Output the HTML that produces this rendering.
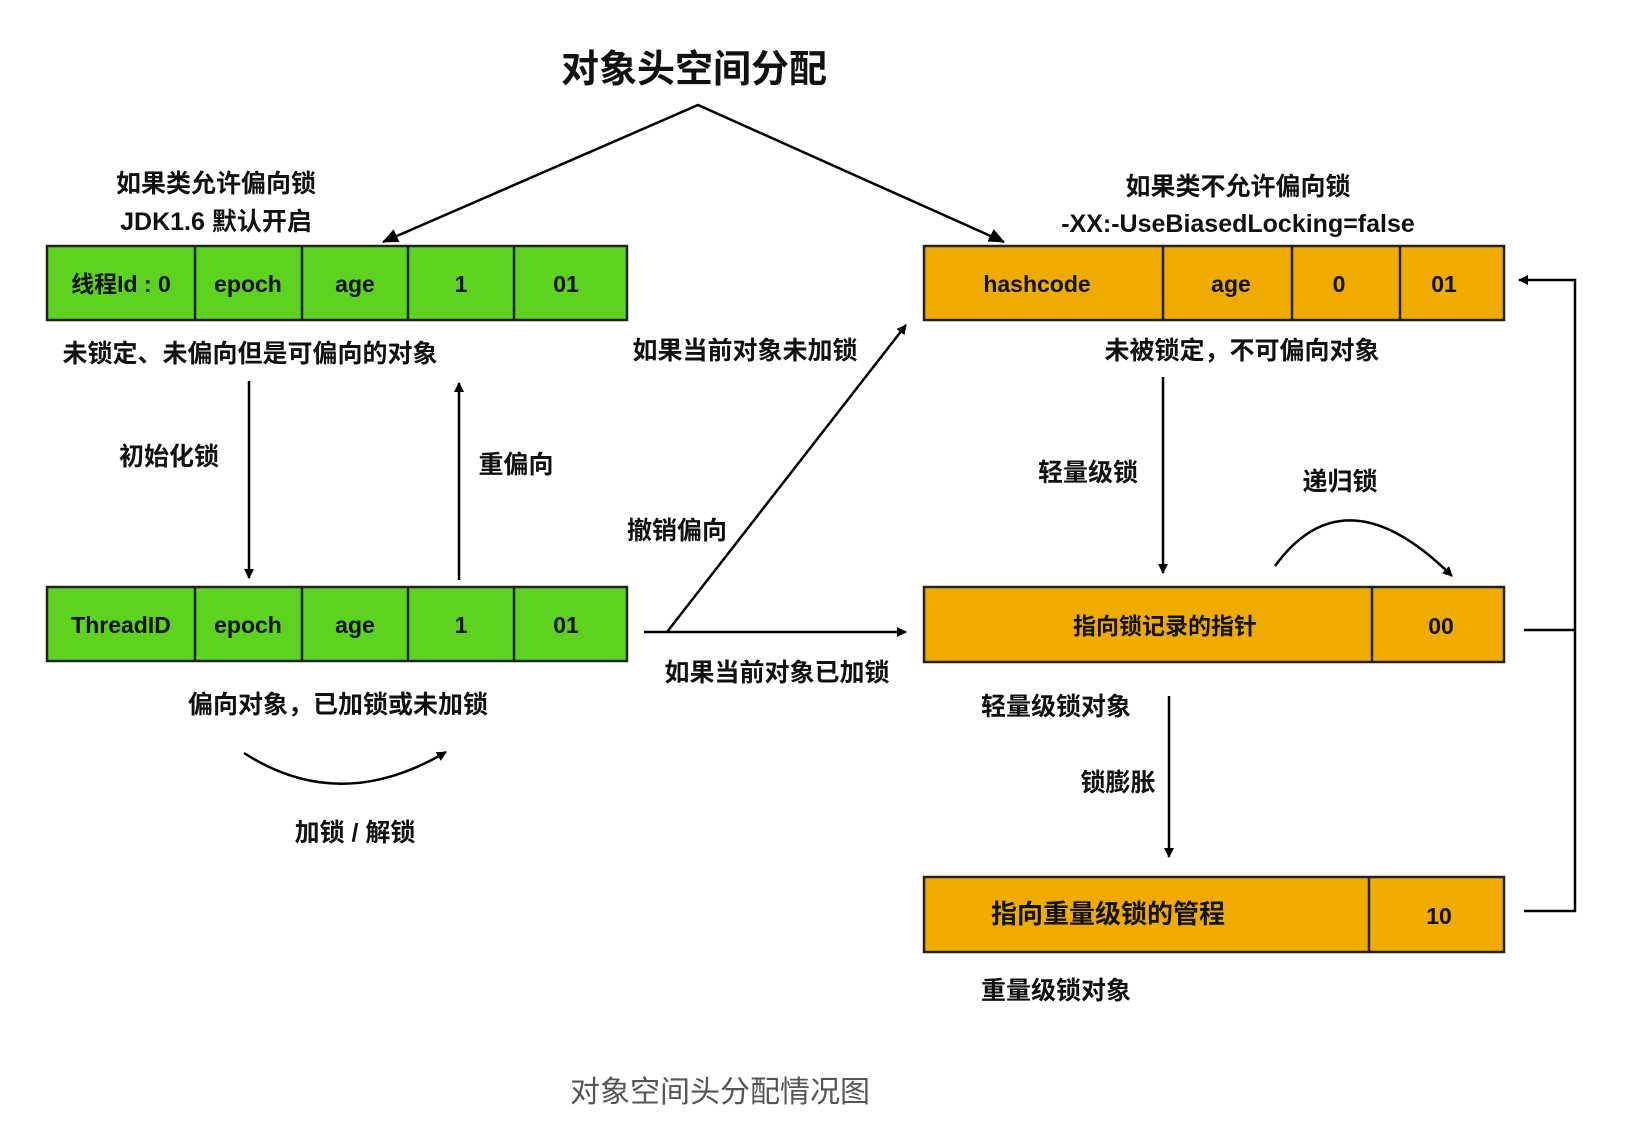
<!DOCTYPE html>
<html><head><meta charset="utf-8"><style>
html,body{margin:0;padding:0;background:#fff;}
svg{display:block;}
text{font-family:"Liberation Sans","Noto Sans CJK SC",sans-serif;font-weight:bold;fill:#111;}
</style></head><body>
<svg width="1628" height="1122" viewBox="0 0 1628 1122" xmlns="http://www.w3.org/2000/svg">
<defs>
<marker id="a" markerWidth="10" markerHeight="10" refX="9" refY="5" orient="auto" markerUnits="userSpaceOnUse"><path d="M0,0 L10,5 L0,10 Z" fill="#000"/></marker>
<marker id="b" markerWidth="16" markerHeight="14" refX="15" refY="7" orient="auto" markerUnits="userSpaceOnUse"><path d="M0,0 L16,7 L0,14 Z" fill="#000"/></marker>
</defs>

<text x="694" y="82" font-size="38" text-anchor="middle">对象头空间分配</text>
<polyline points="383,242 698,105 1004,242" fill="none" stroke="#000" stroke-width="2.5"/>
<path d="M398,235 L383,242" stroke="#000" marker-end="url(#b)"/>
<path d="M990,235 L1004,242" stroke="#000" marker-end="url(#b)"/>

<g font-size="25" text-anchor="middle">
<text x="216" y="192">如果类允许偏向锁</text>
<text x="216" y="230">JDK1.6 默认开启</text>
<text x="1238" y="195">如果类不允许偏向锁</text>
<text x="1238" y="232">-XX:-UseBiasedLocking=false</text>
</g>

<!-- green box 1 -->
<g stroke="#222" stroke-width="2.5">
<rect x="47" y="246" width="580" height="74" fill="#5dd21f"/>
<line x1="195" y1="246" x2="195" y2="320"/><line x1="302" y1="246" x2="302" y2="320"/>
<line x1="408" y1="246" x2="408" y2="320"/><line x1="514" y1="246" x2="514" y2="320"/>
<rect x="47" y="587" width="580" height="74" fill="#5dd21f"/>
<line x1="195" y1="587" x2="195" y2="661"/><line x1="302" y1="587" x2="302" y2="661"/>
<line x1="408" y1="587" x2="408" y2="661"/><line x1="514" y1="587" x2="514" y2="661"/>
<rect x="924" y="246" width="580" height="74" fill="#f0ab00"/>
<line x1="1163" y1="246" x2="1163" y2="320"/><line x1="1292" y1="246" x2="1292" y2="320"/><line x1="1400" y1="246" x2="1400" y2="320"/>
<rect x="924" y="587" width="580" height="75" fill="#f0ab00"/>
<line x1="1372" y1="587" x2="1372" y2="662"/>
<rect x="924" y="877" width="580" height="75" fill="#f0ab00"/>
<line x1="1369" y1="877" x2="1369" y2="952"/>
</g>
<g font-size="23" text-anchor="middle">
<text x="121" y="292">线程Id : 0</text><text x="248" y="292">epoch</text><text x="355" y="292">age</text><text x="461" y="292">1</text><text x="566" y="292">01</text>
<text x="121" y="633">ThreadID</text><text x="248" y="633">epoch</text><text x="355" y="633">age</text><text x="461" y="633">1</text><text x="566" y="633">01</text>
<text x="1037" y="292">hashcode</text><text x="1231" y="292">age</text><text x="1339" y="292">0</text><text x="1444" y="292">01</text>
<text x="1165" y="634">指向锁记录的指针</text><text x="1441" y="634">00</text>
<text x="1108" y="923" font-size="26">指向重量级锁的管程</text><text x="1439" y="924">10</text>
</g>

<g font-size="25" text-anchor="middle">
<text x="250" y="362">未锁定、未偏向但是可偏向的对象</text>
<text x="169" y="465">初始化锁</text>
<text x="516" y="473">重偏向</text>
<text x="338" y="713">偏向对象，已加锁或未加锁</text>
<text x="355" y="841">加锁 / 解锁</text>
<text x="745" y="359">如果当前对象未加锁</text>
<text x="677" y="539">撤销偏向</text>
<text x="777" y="681">如果当前对象已加锁</text>
<text x="1242" y="359">未被锁定，不可偏向对象</text>
<text x="1088" y="481">轻量级锁</text>
<text x="1340" y="490">递归锁</text>
<text x="1056" y="715">轻量级锁对象</text>
<text x="1118" y="791">锁膨胀</text>
<text x="1056" y="999">重量级锁对象</text>
</g>

<g stroke="#000" stroke-width="2.5" fill="none">
<line x1="249" y1="381" x2="249" y2="578" marker-end="url(#a)"/>
<line x1="459" y1="580" x2="459" y2="383" marker-end="url(#a)"/>
<path d="M244,753 Q340,815 446,752" marker-end="url(#a)"/>
<line x1="644" y1="632" x2="906" y2="632" marker-end="url(#a)"/>
<line x1="667" y1="632" x2="906" y2="325" marker-end="url(#a)"/>
<line x1="1163" y1="377" x2="1163" y2="573" marker-end="url(#a)"/>
<path d="M1275,566 Q1345,470 1452,576" marker-end="url(#a)"/>
<line x1="1169" y1="696" x2="1169" y2="857" marker-end="url(#a)"/>
<polyline points="1524,630 1575,630"/>
<polyline points="1524,911 1575,911 1575,280 1519,280" marker-end="url(#a)"/>
</g>

<text x="720" y="1102" font-size="30" text-anchor="middle" style="font-weight:normal;fill:#555">对象空间头分配情况图</text>
</svg>
</body></html>
